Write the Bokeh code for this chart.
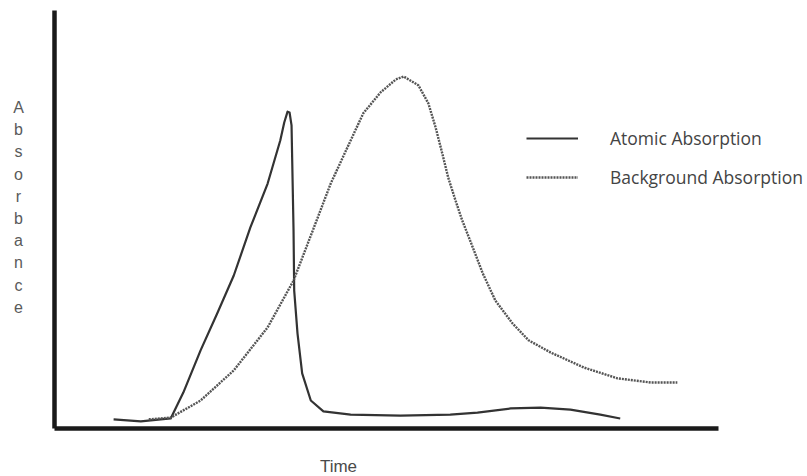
from bokeh.plotting import figure
from bokeh.models import Range1d, Label, Legend, LegendItem, FixedTicker
from bokeh.embed import file_html
from bokeh.resources import INLINE

# Time axis in arbitrary units (0-100), absorbance normalised (0-1)
atomic_time = [8.9, 13.0, 17.5, 19.4, 22.0, 24.5, 27.0, 29.5, 32.1, 34.0, 34.6, 35.1,
               35.4, 35.7, 35.8, 36.0, 36.1, 36.6, 37.3, 38.6, 40.5, 44.6, 52.1,
               59.6, 63.7, 68.7, 73.2, 77.7, 82.2, 85.2]
atomic_abs = [0.022, 0.017, 0.024, 0.086, 0.187, 0.275, 0.366, 0.481, 0.586, 0.689,
              0.732, 0.758, 0.756, 0.725, 0.641, 0.474, 0.330, 0.227, 0.132, 0.067,
              0.041, 0.033, 0.031, 0.033, 0.038, 0.048, 0.050, 0.045, 0.033, 0.024]

background_time = [14.2, 17.5, 22.0, 27.0, 32.1, 36.0, 39.0, 41.6, 44.1, 46.5, 49.1,
                   51.4, 52.6, 54.8, 56.3, 57.4, 58.4, 59.3, 60.4, 61.4, 63.0, 64.5,
                   66.4, 69.0, 71.4, 74.7, 79.7, 84.8, 89.8, 93.8]
background_abs = [0.022, 0.026, 0.067, 0.139, 0.242, 0.354, 0.478, 0.586, 0.672, 0.754,
                  0.804, 0.835, 0.842, 0.821, 0.778, 0.720, 0.658, 0.600, 0.545, 0.498,
                  0.433, 0.371, 0.306, 0.251, 0.211, 0.182, 0.146, 0.120, 0.110, 0.110]

series_names = ["Atomic Absorption", "Background Absorption"]
y_title = "Absorbance"
x_title = "Time"

W, H = 807, 476
# the plotting frame fills the page; axes sit at the data origin
PX_X, PX_Y = 6.64, 418.0      # pixels per x unit / per unit of absorbance
ORIGIN_X, ORIGIN_Y = 54, 428  # page position of the origin

p = figure(width=W, height=H, output_backend="svg", toolbar_location=None,
           x_range=Range1d(-ORIGIN_X / PX_X, (W - ORIGIN_X) / PX_X),
           y_range=Range1d(-(H - ORIGIN_Y) / PX_Y, ORIGIN_Y / PX_Y),
           min_border=0)
p.outline_line_color = None
p.grid.visible = False
p.background_fill_color = "white"
p.border_fill_color = "white"

for ax, bnds in ((p.xaxis[0], (0, 100)), (p.yaxis[0], (0, 1))):
    ax.fixed_location = 0
    ax.bounds = bnds
    ax.ticker = FixedTicker(ticks=[])
    ax.axis_line_color = "#1a1a1a"
    ax.axis_line_width = 4.5
    ax.axis_line_cap = "butt"
    ax.major_tick_out = 0
    ax.major_tick_in = 0
    ax.minor_tick_out = 0
    ax.minor_tick_in = 0
    ax.major_label_standoff = 0

r_atomic = p.line(atomic_time, atomic_abs, line_color="#333333", line_width=2.2,
                  line_join="round")
r_bg = p.line(background_time, background_abs, line_color="#555555", line_width=2.4,
              line_dash="2 1", line_cap="butt")

legend = Legend(items=[LegendItem(label=series_names[0], renderers=[r_atomic]),
                       LegendItem(label=series_names[1], renderers=[r_bg])],
                location=(526, H - 188.5), orientation="vertical",
                glyph_width=52, glyph_height=20, label_height=20,
                label_standoff=32, spacing=15, padding=0, margin=0,
                border_line_color=None, background_fill_alpha=0,
                label_text_font="Open Sans", label_text_font_size="17.5px",
                label_text_color="#444444", label_text_baseline="middle")
p.add_layout(legend)

# Vertical stacked axis title on the left
for i, ch in enumerate(y_title):
    p.add_layout(Label(x=18, y=H - (107 + 22.2 * i),
                       x_units="screen", y_units="screen", text=ch,
                       text_font="Liberation Sans", text_font_size="16px",
                       text_color="#5a5a5a", text_align="center",
                       text_baseline="middle"))

p.add_layout(Label(x=338, y=H - 466, x_units="screen", y_units="screen",
                   text=x_title, text_font="Liberation Sans",
                   text_font_size="17px", text_color="#4a4a4a",
                   text_align="center", text_baseline="middle"))

open("out.html", "w").write(file_html(p, INLINE))
